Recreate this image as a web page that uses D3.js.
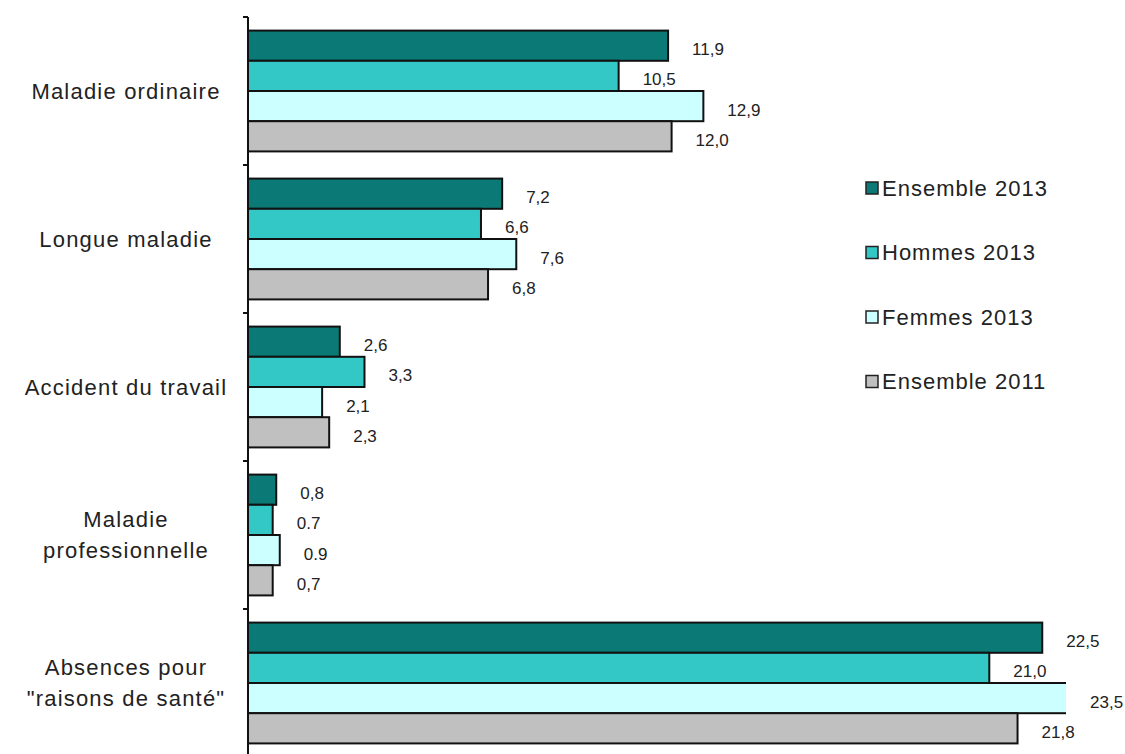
<!DOCTYPE html>
<html>
<head>
  <meta charset="utf-8">
  <title>Absences pour raisons de santé</title>
  <style>
    body { margin: 0; background: #fff; }
    text { font-family: "Liberation Sans", Arial, sans-serif; fill: #222; }
  </style>
</head>
<body>

  <script src="https://cdn.jsdelivr.net/npm/d3@7"></script>
  <script type="text/javascript">

  // categories (one line per array entry)
  var categories = [
    ['Maladie ordinaire'],
    ['Longue maladie'],
    ['Accident du travail'],
    ['Maladie', 'professionnelle'],
    ['Absences pour', '"raisons de santé"']
  ];

  var series = ['Ensemble 2013', 'Hommes 2013', 'Femmes 2013', 'Ensemble 2011'];
  var colors = ['#0b7a77', '#33c7c6', '#ccffff', '#c0c0c0'];

  var ensemble2013 = [11.9, 7.2, 2.6, 0.8, 22.5],
      hommes2013   = [10.5, 6.6, 3.3, 0.7, 21.0],
      femmes2013   = [12.9, 7.6, 2.1, 0.9, 23.5],
      ensemble2011 = [12.0, 6.8, 2.3, 0.7, 21.8];

  // value labels as printed in the source
  var labels2013E = ['11,9', '7,2', '2,6', '0,8', '22,5'],
      labels2013H = ['10,5', '6,6', '3,3', '0.7', '21,0'],
      labels2013F = ['12,9', '7,6', '2,1', '0.9', '23,5'],
      labels2011E = ['12,0', '6,8', '2,3', '0,7', '21,8'];

  var values = [ensemble2013, hommes2013, femmes2013, ensemble2011],
      labels = [labels2013E, labels2013H, labels2013F, labels2011E];

  var width = 1125, height = 754;

  var svg = d3.select('body')
              .append('svg')
              .attr('width', width)
              .attr('height', height);

  var x = d3.scaleLinear().domain([0, 1]).range([248, 283.3]);
  var plotRight = 1066;

  var y = d3.scaleBand()
            .domain(d3.range(categories.length))
            .range([17, 757]);

  var yInner = d3.scaleBand()
                 .domain(d3.range(series.length))
                 .range([0, y.bandwidth()])
                 .paddingOuter(0.45);

  var rows = [];
  categories.forEach(function(c, i){
    series.forEach(function(s, j){
      rows.push({cat: i, ser: j, value: values[j][i], label: labels[j][i]});
    });
  });

  // plot area clip (the longest bar runs past it in the source)
  svg.append('clipPath')
     .attr('id', 'plot')
     .append('rect')
     .attr('x', 0).attr('y', 0)
     .attr('width', plotRight).attr('height', height);

  // bars
  svg.append('g')
     .attr('clip-path', 'url(#plot)')
     .selectAll('rect')
     .data(rows)
     .enter()
     .append('rect')
     .attr('x', x(0))
     .attr('y', function(d){ return y(d.cat) + yInner(d.ser); })
     .attr('width', function(d){ return x(d.value) - x(0); })
     .attr('height', yInner.bandwidth())
     .attr('fill', function(d){ return colors[d.ser]; })
     .attr('stroke', '#111')
     .attr('stroke-width', 2);

  // value labels
  svg.append('g').selectAll('text')
     .data(rows)
     .enter()
     .append('text')
     .attr('x', function(d){ return Math.min(x(d.value), plotRight) + 24; })
     .attr('y', function(d){ return y(d.cat) + yInner(d.ser) + yInner.bandwidth() / 2 + 5; })
     .attr('dominant-baseline', 'middle')
     .attr('font-size', 17)
     .text(function(d){ return d.label; });

  // vertical axis with ticks at band edges
  var axis = svg.append('g').attr('stroke', '#111').attr('stroke-width', 2);
  axis.append('line')
      .attr('x1', x(0)).attr('x2', x(0))
      .attr('y1', y.range()[0]).attr('y2', height);
  axis.selectAll('line.tick')
      .data(d3.range(categories.length + 1))
      .enter()
      .append('line')
      .attr('class', 'tick')
      .attr('x1', x(0) - 5).attr('x2', x(0))
      .attr('y1', function(i){ return y.range()[0] + i * y.step(); })
      .attr('y2', function(i){ return y.range()[0] + i * y.step(); });

  // category labels
  var cat = svg.append('g').selectAll('text')
     .data(categories)
     .enter()
     .append('text')
     .attr('text-anchor', 'middle')
     .attr('font-size', 22)
     .attr('letter-spacing', 1.2)
     .attr('y', function(d, i){ return y(i) + y.bandwidth() / 2 - (d.length - 1) * 15.5; });

  cat.selectAll('tspan')
     .data(function(d){ return d; })
     .enter()
     .append('tspan')
     .attr('x', 126)
     .attr('dy', function(d, k){ return k === 0 ? '0.35em' : 31; })
     .text(function(d){ return d; });

  // legend
  var legend = svg.append('g').selectAll('g')
     .data(series)
     .enter()
     .append('g')
     .attr('transform', function(d, i){ return 'translate(866,' + (188 + i * 64.5) + ')'; });

  legend.append('rect')
        .attr('x', 0).attr('y', -6)
        .attr('width', 12).attr('height', 12)
        .attr('fill', function(d, i){ return colors[i]; })
        .attr('stroke', '#222')
        .attr('stroke-width', 1.5);

  legend.append('text')
        .attr('x', 16)
        .attr('dy', '0.35em')
        .attr('font-size', 22)
        .attr('letter-spacing', 1)
        .text(function(d){ return d; });

  </script>
</body>
</html>
